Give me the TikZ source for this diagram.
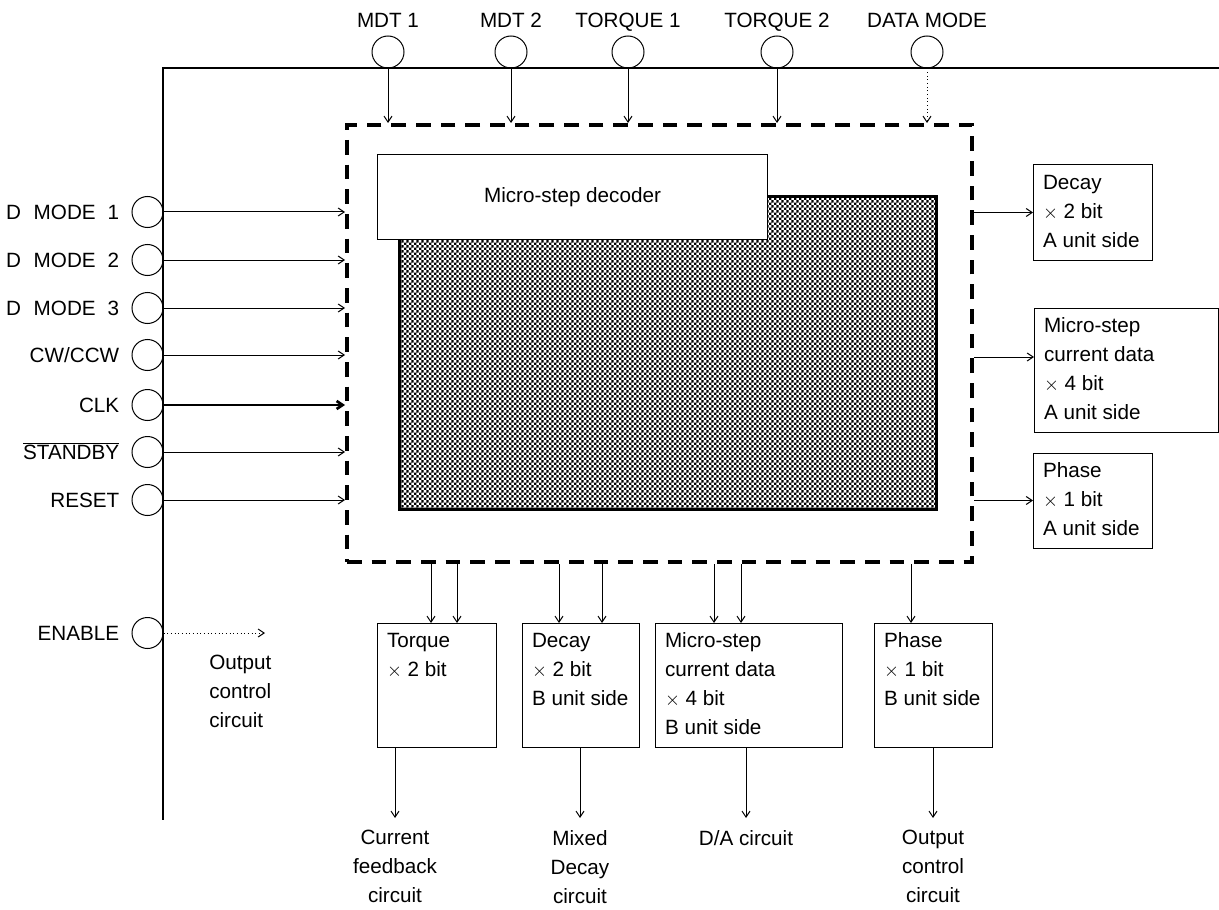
\documentclass[tikz,border=0pt]{standalone}
\usepackage{fontspec}
\setmainfont{Liberation Sans}
\usetikzlibrary{positioning,arrows.meta,patterns}

% fine checker fill for the core block
\pgfdeclarepatternformonly{fine checker}{\pgfqpoint{0pt}{0pt}}{\pgfqpoint{4pt}{4pt}}{\pgfqpoint{4pt}{4pt}}{%
  \pgfpathrectangle{\pgfqpoint{0pt}{0pt}}{\pgfqpoint{2pt}{2pt}}%
  \pgfpathrectangle{\pgfqpoint{2pt}{2pt}}{\pgfqpoint{2pt}{2pt}}%
  \pgfusepath{fill}}

\tikzset{
  bus/.style={line width=1.5pt},
  pin/.style={circle, draw, line width=0.75pt, minimum size=23.25pt, inner sep=0pt},
  pinlbl/.style={inner sep=0pt, text height=11.1pt, text depth=0pt},
  sig/.style={line width=0.75pt, ->},
  unit/.style={draw, line width=0.75pt, anchor=north west, inner sep=0pt, outer sep=0pt, minimum height=93pt},
  unittxt/.style={align=left, anchor=north west, inner xsep=7.5pt, inner ysep=7.5pt, outer sep=0pt},
  dest/.style={align=center, anchor=north, inner sep=0pt},
}

\begin{document}
\begin{tikzpicture}[x=0.75pt, y=-0.75pt, font=\fontsize{15.5}{21.75}\selectfont,
    >={Straight Barb[length=4.5pt,width=6pt]}]
  \useasboundingbox (0,0) rectangle (1219,909);

  % bus lines
  \draw[bus] (1219,68) -- (163,68) -- (163,820);

  % control block
  \node[draw, line width=3pt, dash pattern=on 11pt off 7.5pt, anchor=north west,
    minimum width=468.75pt, minimum height=327.75pt, inner sep=0pt] (ctrl) at (345,123) {};
  \node[draw, line width=2.5pt, pattern=fine checker, anchor=north west,
    minimum width=402.75pt, minimum height=234.75pt, inner sep=0pt] (core) at (398,195) {};
  \node[draw, fill=white, line width=0.75pt, anchor=north west,
    minimum width=292.5pt, minimum height=63.75pt, inner sep=0pt] (dec) at (377,154) {Micro-step decoder};

  % top pins
  \foreach \nm/\txt/\xx in {mdt1/MDT 1/388, mdt2/MDT 2/511, trq1/TORQUE 1/628, trq2/TORQUE 2/777, dmode/DATA MODE/927} {
    \node[pin, minimum size=24pt] (\nm) at (\xx,52) {};
    \node[pinlbl, above=6pt of \nm] (\nm-l) {\txt};
  }
  \foreach \nm in {mdt1,mdt2,trq1,trq2}
    \draw[sig] (\nm.south) -- (\nm.south |- ctrl.north);
  \draw[sig, dotted] (dmode.south) -- (dmode.south |- ctrl.north);

  % left pins
  \foreach \nm/\txt/\yy in {dm1/{D\hspace{9.5pt}MODE\hspace{9pt}1}/212, dm2/{D\hspace{9.5pt}MODE\hspace{9pt}2}/260,
      dm3/{D\hspace{9.5pt}MODE\hspace{9pt}3}/308, cw/{CW/CCW}/355, clk/CLK/405,
      stby/{$\overline{\mbox{STANDBY}}$}/452, rst/RESET/500, en/ENABLE/633} {
    \node[pin] (\nm) at (147.5,\yy) {};
    \node[pinlbl, left=9pt of \nm] (\nm-l) {\txt};
  }
  \foreach \nm in {dm1,dm2,dm3,cw,stby,rst}
    \draw[sig] (\nm.east) -- (\nm.east -| ctrl.west);
  \draw[sig, line width=2pt] (clk.east) -- (clk.east -| ctrl.west);

  \coordinate (en-end) at (265,633);
  \draw[sig, dotted] (en.east) -- (en-end);
  \node[align=left, anchor=north west, inner sep=0pt] (en-oc) at (209,655) {Output\\control\\circuit};

  % A unit side
  \node[unit, minimum width=89.25pt, minimum height=71.25pt,
    label={[unittxt]north west:Decay\\$\times$ 2 bit\\A unit side}] (decA) at (1033,165) {};
  \node[unit, minimum width=138pt,
    label={[unittxt]north west:Micro-step\\current data\\$\times$ 4 bit\\A unit side}] (msA) at (1034,308) {};
  \node[unit, minimum width=89.25pt, minimum height=71.25pt,
    label={[unittxt]north west:Phase\\$\times$ 1 bit\\A unit side}] (phA) at (1033,453) {};
  \coordinate (msA-in) at ([yshift=9.75pt]msA.west);
  \draw[sig] (ctrl.east |- decA.west) -- (decA.west);
  \draw[sig] (ctrl.east |- msA-in) -- (msA-in);
  \draw[sig] (ctrl.east |- phA.west) -- (phA.west);

  % B unit side
  \node[unit, minimum width=89.25pt,
    label={[unittxt]north west:Torque\\$\times$ 2 bit}] (torque) at (377,623) {};
  \node[unit, minimum width=87.75pt,
    label={[unittxt]north west:Decay\\$\times$ 2 bit\\B unit side}] (decB) at (522,623) {};
  \node[unit, minimum width=140.25pt,
    label={[unittxt]north west:Micro-step\\current data\\$\times$ 4 bit\\B unit side}] (msB) at (655,623) {};
  \node[unit, minimum width=88.5pt,
    label={[unittxt]north west:Phase\\$\times$ 1 bit\\B unit side}] (phB) at (874,623) {};
  \foreach \b/\dx [count=\i] in {torque/40.5, torque/60, decB/27.75, decB/60, msB/44.25, msB/64.5, phB/27.75} {
    \coordinate (in\i) at ([xshift=\dx pt]\b.north west);
    \draw[sig] (in\i |- ctrl.south) -- (in\i);
  }

  % destinations
  \node[dest] (cfb) at (395,830) {Current\\feedback\\circuit};
  \node[dest] (mdc) at (580,830) {Mixed\\Decay\\circuit};
  \node[dest] (dac) at (746,830) {D/A circuit};
  \node[dest] (occ) at (933,830) {Output\\control\\circuit};
  \foreach \b/\d in {torque/cfb, decB/mdc, msB/dac, phB/occ}
    \draw[sig] (\b.south -| \d.north) -- ([yshift=9pt]\d.north);
\end{tikzpicture}
\end{document}
